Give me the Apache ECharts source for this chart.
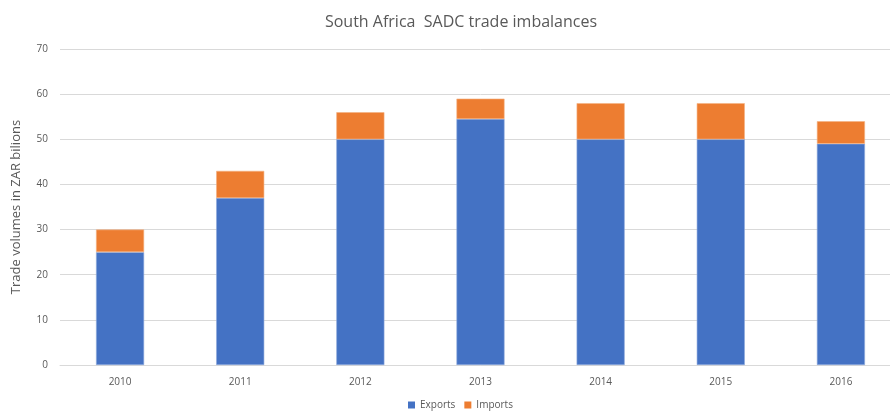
<!DOCTYPE html>
<html><head><meta charset="utf-8">
<script src="https://cdn.jsdelivr.net/npm/echarts@6/dist/echarts.min.js"></script>
<style>html,body{margin:0;padding:0;background:#fff;overflow:hidden;width:890px;height:412px}#c{width:901px;height:412px}</style>
</head><body><div id="c"></div>
<script>
const categories = ['2010','2011','2012','2013','2014','2015','2016'];
const exportsData = [25, 37, 50, 54.5, 50, 50, 49];
const importsData = [5, 6, 6, 4.5, 8, 8, 5];
const yTicks = {min: 0, max: 70, interval: 10};

const chart = echarts.init(document.getElementById('c'));
const font = '"Open Sans", "Liberation Sans", sans-serif';
chart.setOption({
  animation: false,
  textStyle: {fontFamily: font},
  title: {text: 'South Africa  SADC trade imbalances', left: 456, textAlign: 'center', top: 9,
    textStyle: {fontFamily: font, fontSize: 16, fontWeight: 'normal', color: '#595959'}},
  legend: {bottom: -3, left: 403, itemWidth: 7, itemHeight: 7, itemGap: 9, icon: 'rect',
    itemStyle: {borderWidth: 0},
    textStyle: {fontFamily: font, fontSize: 10, color: '#595959'},
    data: ['Exports', 'Imports']},
  grid: {left: 60, right: 0, top: 49, bottom: 47, containLabel: false},
  xAxis: {type: 'category', data: categories,
    axisLine: {lineStyle: {color: '#d9d9d9'}}, axisTick: {show: false},
    axisLabel: {color: '#595959', fontSize: 10, margin: 12}},
  yAxis: {type: 'value', min: yTicks.min, max: yTicks.max, interval: yTicks.interval,
    name: 'Trade volumes in ZAR bilions', nameLocation: 'middle', nameGap: 37,
    nameTextStyle: {color: '#595959', fontSize: 13, fontFamily: font},
    axisLine: {show: false}, axisTick: {show: false},
    axisLabel: {color: '#595959', fontSize: 10, margin: 12},
    splitLine: {lineStyle: {color: '#d9d9d9'}}},
  series: [
    {name: 'Exports', type: 'bar', stack: 't', data: exportsData, barWidth: '40%',
      itemStyle: {color: '#4472c4', borderColor: '#8faadc', borderWidth: 0.6}},
    {name: 'Imports', type: 'bar', stack: 't', data: importsData, barWidth: '40%',
      itemStyle: {color: '#ed7d31', borderColor: '#f4b183', borderWidth: 0.6}}
  ]
});
</script></body></html>
